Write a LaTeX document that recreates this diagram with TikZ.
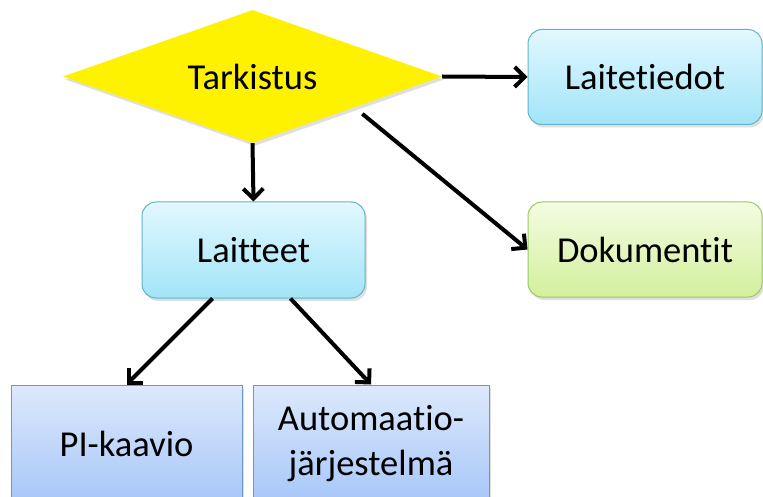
\documentclass[tikz,border=0pt]{standalone}
\usepackage{fontspec}
\setmainfont{Carlito}[Ligatures={NoCommon}]
\usetikzlibrary{shapes.geometric,arrows.meta,shadows}
\definecolor{cyanTop}{HTML}{E2F8FE}
\definecolor{cyanBot}{HTML}{A2E4F8}
\definecolor{cyanLine}{HTML}{62B4CC}
\definecolor{greenTop}{HTML}{F4FCE2}
\definecolor{greenBot}{HTML}{D2F09C}
\definecolor{greenLine}{HTML}{9CC862}
\definecolor{blueTop}{HTML}{DDE9FC}
\definecolor{blueBot}{HTML}{A6C6F8}
\definecolor{blueLine}{HTML}{6C96CC}
\tikzset{
  lbl/.style={font=\fontsize{36.5}{42}\selectfont, text=black, align=center},
  shad/.style={drop shadow={shadow xshift=2pt, shadow yshift=-3pt, opacity=0.25}},
  cyanbox/.style={lbl, shad, rectangle, rounded corners=14pt, draw=cyanLine, line width=1pt,
     top color=cyanTop, bottom color=cyanBot, inner sep=0pt},
  greenbox/.style={lbl, shad, rectangle, rounded corners=14pt, draw=greenLine, line width=1pt,
     top color=greenTop, bottom color=greenBot, inner sep=0pt},
  bluebox/.style={lbl, shad, rectangle, draw=blueLine, line width=1pt,
     top color=blueTop, bottom color=blueBot, inner sep=0pt},
  conn/.style={line width=4pt, draw=black, -{Straight Barb[length=10pt,width=20pt,line width=4pt]}},
}
\begin{document}
\begin{tikzpicture}[x=1pt,y=-1pt]
\useasboundingbox (0,0) rectangle (763,497);
\clip (0,0) rectangle (763,497);
\fill[white] (0,0) rectangle (763,497);
\node[lbl, shape=diamond, aspect=2.85, minimum width=379pt, minimum height=133pt, inner sep=0pt,
      fill=yellow, shad] (tark) at (252.5,76.5) {Tarkistus};
\node[cyanbox, minimum width=234pt, minimum height=95pt] (ltd) at (645,77) {Laitetiedot};
\node[greenbox, minimum width=234pt, minimum height=95pt] (dok) at (645,249.5) {Dokumentit};
\node[cyanbox, minimum width=223pt, minimum height=96pt] (lai) at (253.5,250) {Laitteet};
\node[bluebox, minimum width=231pt, minimum height=118pt] (pi) at (126.5,444) {PI-kaavio};
\node[bluebox, minimum width=236pt, minimum height=118pt, font=\fontsize{36.5}{45}\selectfont] (aut) at (371,444) {Automaatio-\\järjestelmä};
\draw[conn] (tark.east) -- (ltd.west);
\draw[conn] (tark.south) -- (lai.north);
\draw[conn] ([xshift=15pt,yshift=-4pt]tark.south east) -- (dok.west);
\draw[conn] ([xshift=-41pt]lai.south) -- (pi.north);
\draw[conn] ([xshift=37pt]lai.south) -- (aut.north);
\end{tikzpicture}
\end{document}
